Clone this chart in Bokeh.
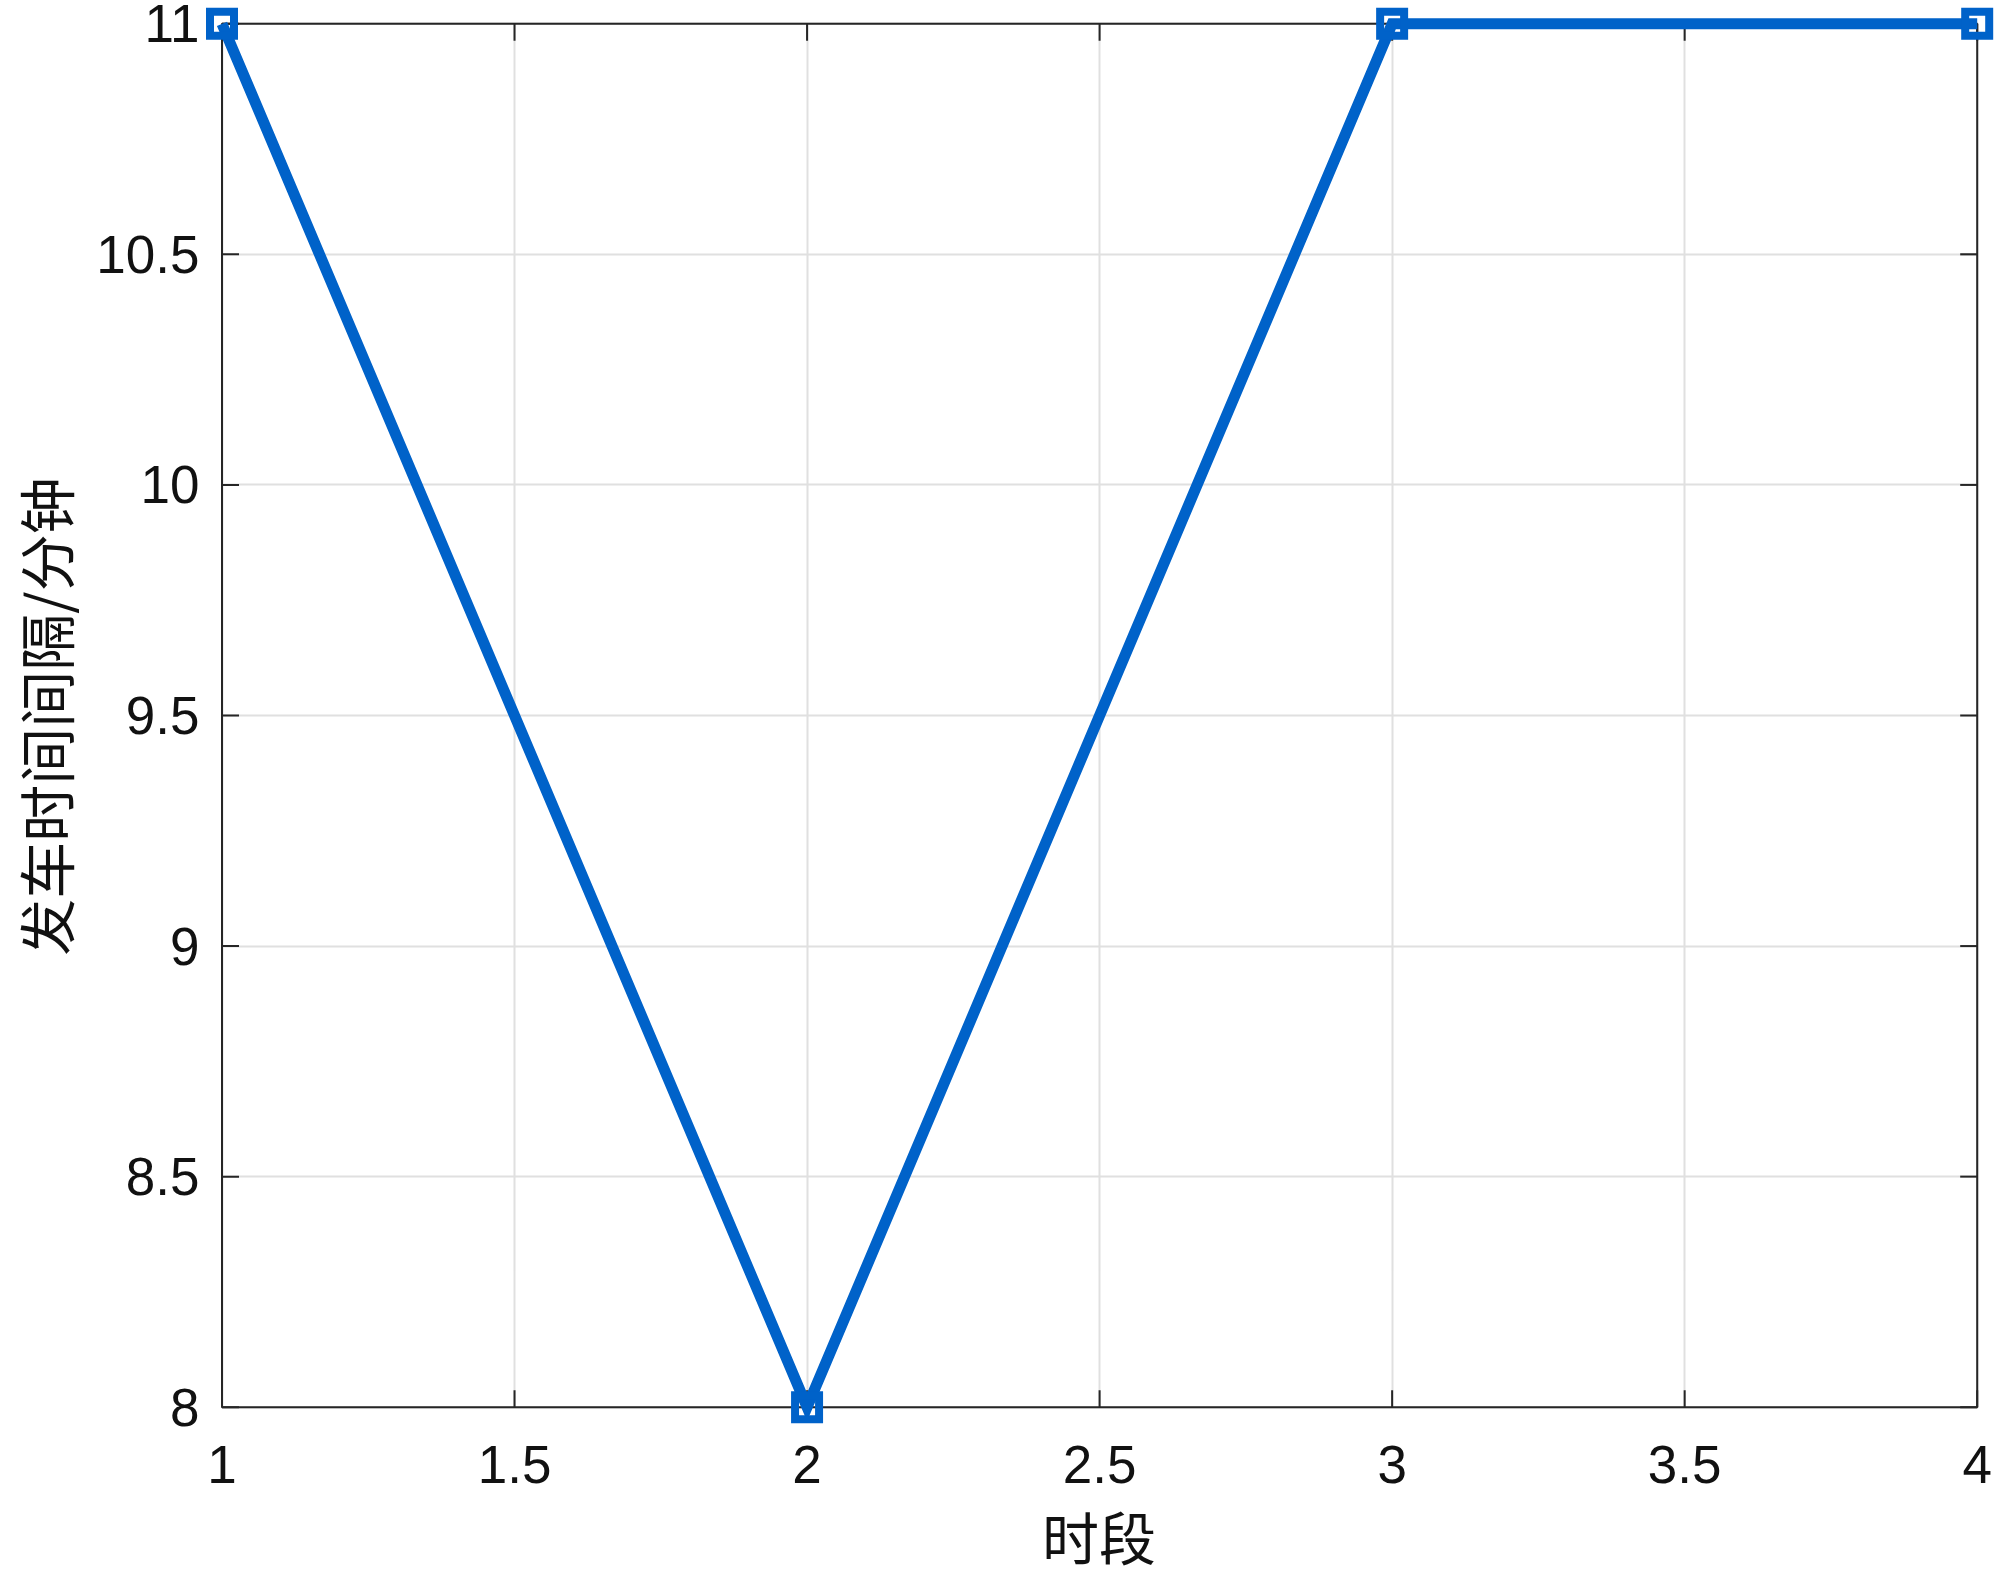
import math
from bokeh.plotting import figure
from bokeh.models import Range1d, FixedTicker, ColumnDataSource
from bokeh.embed import file_html
from bokeh.resources import INLINE

# ---- data ----
periods = [1, 2, 3, 4]
intervals = [11, 8, 11, 11]
x_ticks = [1, 1.5, 2, 2.5, 3, 3.5, 4]
x_tick_labels = ["1", "1.5", "2", "2.5", "3", "3.5", "4"]
y_ticks = [8, 8.5, 9, 9.5, 10, 10.5, 11]
y_tick_labels = ["8", "8.5", "9", "9.5", "10", "10.5", "11"]
x_label = "时段"
y_label = "发车时间间隔/分钟"
x_lim = (1, 4)
y_lim = (8, 11)

# ---- layout (pixels) ----
FRAME_W, FRAME_H = 1793, 1422
PAD_L, PAD_R, PAD_T, PAD_B = 19.5, 18.3, 18.3, 20.3
ppu_x = (FRAME_W - PAD_L - PAD_R) / (x_lim[1] - x_lim[0])
ppu_y = (FRAME_H - PAD_T - PAD_B) / (y_lim[1] - y_lim[0])
x_range = Range1d(x_lim[0] - PAD_L / ppu_x, x_lim[1] + PAD_R / ppu_x)
y_range = Range1d(y_lim[0] - PAD_B / ppu_y, y_lim[1] + PAD_T / ppu_y)

AX_COLOR = "#262626"
TXT_COLOR = "#111111"
LINE_COLOR = "#0062C9"
TICK_FONT = "Liberation Sans"
CJK_FONT = "Noto Sans CJK SC"
TICK_LEN = 17

p = figure(frame_width=FRAME_W, frame_height=FRAME_H,
           x_range=x_range, y_range=y_range,
           output_backend="svg", toolbar_location=None,
           min_border_left=202, min_border_right=0,
           min_border_top=5, min_border_bottom=143)
p.outline_line_color = None
p.background_fill_color = "white"
p.border_fill_color = "white"


def style_axis(ax, ticks, labels, bounds, standoff, label, label_standoff):
    ax.bounds = bounds
    ax.ticker = FixedTicker(ticks=ticks)
    ax.major_label_overrides = {float(t): l for t, l in zip(ticks, labels)}
    ax.major_tick_in = 0
    ax.major_tick_out = 0
    ax.major_tick_line_color = None
    ax.minor_tick_line_color = None
    ax.axis_line_color = None
    ax.major_label_standoff = standoff
    ax.major_label_text_font = TICK_FONT
    ax.major_label_text_font_size = "53px"
    ax.major_label_text_color = TXT_COLOR
    ax.axis_label = label
    ax.axis_label_text_font = CJK_FONT
    ax.axis_label_text_font_size = "57px"
    ax.axis_label_text_font_style = "normal"
    ax.axis_label_text_color = TXT_COLOR
    ax.axis_label_standoff = label_standoff


style_axis(p.xaxis[0], x_ticks, x_tick_labels, x_lim, 18, x_label, 8)
style_axis(p.yaxis[0], y_ticks, y_tick_labels, y_lim, 3, y_label, 8)

for g in (p.xgrid[0], p.ygrid[0]):
    g.grid_line_color = "#e0e0e0"
    g.grid_line_width = 2
try:
    p.xgrid[0].cross_bounds = y_lim
    p.ygrid[0].cross_bounds = x_lim
except Exception:
    pass

# axes box
p.quad(left=[x_lim[0]], right=[x_lim[1]], bottom=[y_lim[0]], top=[y_lim[1]],
       fill_color=None, line_color=AX_COLOR, line_width=2)

# inward ticks on all four sides
nx, ny = len(x_ticks), len(y_ticks)
p.ray(x=x_ticks, y=[y_lim[0]] * nx, length=TICK_LEN, length_units="screen",
      angle=math.pi / 2, line_color=AX_COLOR, line_width=2)
p.ray(x=x_ticks, y=[y_lim[1]] * nx, length=TICK_LEN, length_units="screen",
      angle=-math.pi / 2, line_color=AX_COLOR, line_width=2)
p.ray(x=[x_lim[0]] * ny, y=y_ticks, length=TICK_LEN, length_units="screen",
      angle=0, line_color=AX_COLOR, line_width=2)
p.ray(x=[x_lim[1]] * ny, y=y_ticks, length=TICK_LEN, length_units="screen",
      angle=math.pi, line_color=AX_COLOR, line_width=2)

src = ColumnDataSource(dict(x=periods, y=intervals))
p.line("x", "y", source=src, line_width=11, line_color=LINE_COLOR, line_join="miter")
p.scatter("x", "y", source=src, marker="square", size=24, line_width=8,
          line_color=LINE_COLOR, line_join="miter", fill_alpha=0)

open("out.html", "w").write(file_html(p, INLINE))
